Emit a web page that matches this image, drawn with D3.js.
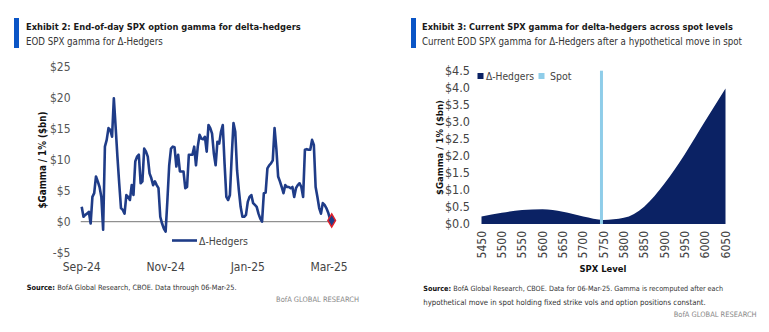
<!DOCTYPE html>
<html><head><meta charset="utf-8">
<script src="https://cdn.jsdelivr.net/npm/d3@7"></script>
<style>
body{margin:0;background:#fff;}
svg{display:block;font-family:"Liberation Sans Narrow","DejaVu Sans Condensed","Roboto","Liberation Sans",sans-serif;}
</style></head>
<body><svg id="c" width="769" height="332"></svg>
<script>
// ---------- Exhibit 2 data ----------
const hedgerGamma = [2.4,0.8,1.1,1.3,1.6,-0.3,4.0,4.6,7.3,6.5,
5.6,4.0,-1.3,12.1,13.2,15.1,14.8,13.7,19.9,15.3,
10.5,6.2,2.2,1.9,1.3,4.3,4.0,3.5,5.9,4.3,
9.7,10.5,10.8,6.2,6.5,11.8,11.3,10.5,7.8,7.0,
5.9,6.5,5.9,5.4,0.8,-0.3,-1.1,-1.6,3.5,9.1,
11.8,12.1,12.0,8.9,10.8,8.1,8.1,8.1,5.4,5.6,
10.8,10.8,10.8,12.1,9.1,12.1,14.0,13.4,13.3,13.7,
11.3,15.6,15.1,14.2,11.0,9.1,12.9,12.6,14.5,15.6,
9.4,4.0,3.5,4.3,10.5,15.9,14.5,8.3,5.1,2.4,
0.8,0.8,1.1,3.2,4.0,4.3,3.0,2.7,2.4,1.3,
0.5,0,4.6,4.7,8.6,9.1,9.4,9.9,15.1,11.8,
7.3,6.5,5.6,4.6,5.9,5.6,5.6,5.4,5.6,4.0,
5.4,5.9,6.2,5.6,4.0,11.6,11.7,11.6,11.6,13.2,
12.4,5.6,4.0,2.2,1.3,3.0,2.7,2.2,1.5,0.5,
0.2];
const dateTickLabels = ["Sep-24","Nov-24","Jan-25","Mar-25"];
const dateTickIndex = [0,47,93,138.5];
const leftYTicks = [-5,0,5,10,15,20,25];

// ---------- Exhibit 3 data ----------
const spxLevels = [5450,5500,5550,5600,5650,5700,5750,5800,5850,5900,5950,6000,6050];
const spotGamma = [0.22,0.33,0.41,0.43,0.36,0.22,0.12,0.18,0.51,1.19,2.05,3.02,3.98];
const spotLevel = 5745;
const rightYTicks = [0,0.5,1,1.5,2,2.5,3,3.5,4,4.5];

const NAVY_LINE = "#1f3c88";
const NAVY_AREA = "#0b2264";
const SPOT = "#8fcde9";
const BAR = "#0a55c6";

const svg = d3.select("#c");

// scale the font size so the text's natural width matches the target width
function fit(sel, target){
  const fs = parseFloat(sel.attr("font-size"));
  const w = sel.node().getComputedTextLength();
  if (w > 0) sel.attr("font-size", (fs*target/w).toFixed(2));
}

// ---------- headers ----------
svg.append("rect").attr("x",14).attr("y",18).attr("width",5).attr("height",30).attr("fill",BAR);
svg.append("text").attr("x",26).attr("y",30).attr("font-size",12.5).attr("font-weight","bold").attr("fill","#1a1a1a")
  .text("Exhibit 2: End-of-day SPX option gamma for delta-hedgers").call(fit,275);
svg.append("text").attr("x",26).attr("y",45).attr("font-size",12).attr("fill","#333")
  .text("EOD SPX gamma for Δ-Hedgers").call(fit,137);

svg.append("rect").attr("x",411).attr("y",18).attr("width",5).attr("height",30).attr("fill",BAR);
svg.append("text").attr("x",422).attr("y",30).attr("font-size",12.5).attr("font-weight","bold").attr("fill","#1a1a1a")
  .text("Exhibit 3: Current SPX gamma for delta-hedgers across spot levels").call(fit,311);
svg.append("text").attr("x",422).attr("y",45).attr("font-size",12).attr("fill","#333")
  .text("Current EOD SPX gamma for Δ-Hedgers after a hypothetical move in spot").call(fit,320);

// ---------- Left chart ----------
const xL = d3.scaleLinear().domain([0, hedgerGamma.length-1]).range([81.7, 331.7]);
const yL = d3.scaleLinear().domain([-5,25]).range([252.7, 66.7]);

const gL = svg.append("g");
gL.selectAll("text.yl").data(leftYTicks).join("text")
  .attr("x",70.5).attr("y",d=>yL(d)).attr("dy","0.35em").attr("text-anchor","end")
  .attr("font-size",12).attr("fill","#555")
  .text(d=> d<0 ? "-$"+Math.abs(d) : "$"+d);

gL.append("line").attr("x1",xL(0)-1).attr("x2",xL(hedgerGamma.length-1)+1)
  .attr("y1",yL(0)).attr("y2",yL(0)).attr("stroke","#777").attr("stroke-width",1);

gL.append("path").datum(hedgerGamma)
  .attr("fill","none").attr("stroke",NAVY_LINE).attr("stroke-width",2.6).attr("stroke-linejoin","round")
  .attr("d", d3.line().x((d,i)=>xL(i)).y(d=>yL(d)));

const last = hedgerGamma.length-1;
gL.append("path").attr("d", d3.symbol(d3.symbolDiamond, 50)())
  .attr("transform",`translate(${xL(last)},${yL(hedgerGamma[last])})`)
  .attr("fill",NAVY_LINE).attr("stroke","#e0202a").attr("stroke-width",1.5);

gL.selectAll("text.xl").data(dateTickLabels).join("text")
  .attr("x",(d,i)=>xL(dateTickIndex[i])).attr("y",271).attr("text-anchor","middle")
  .attr("font-size",12).attr("fill","#444").text(d=>d);

gL.append("text").attr("transform","translate(46,160) rotate(-90)").attr("text-anchor","middle")
  .attr("font-size",12).attr("font-weight","bold").attr("fill","#111")
  .text("$Gamma / 1% ($bn)").call(fit,97);

gL.append("line").attr("x1",172).attr("x2",197).attr("y1",240.5).attr("y2",240.5)
  .attr("stroke",NAVY_LINE).attr("stroke-width",2.6);
gL.append("text").attr("x",199).attr("y",244.5).attr("font-size",12).attr("fill","#444")
  .text("Δ-Hedgers").call(fit,49);

const s1 = svg.append("text").attr("x",26.7).attr("y",290).attr("font-size",9).attr("fill","#333");
s1.append("tspan").attr("font-weight","bold").attr("fill","#111").text("Source: ");
s1.append("tspan").text("BofA Global Research, CBOE. Data through 06-Mar-25.");
s1.call(fit,210);
svg.append("text").attr("x",359).attr("y",302).attr("text-anchor","end").attr("font-size",9).attr("fill","#888")
  .text("BofA GLOBAL RESEARCH").call(fit,83);

// ---------- Right chart ----------
const xR = d3.scaleLinear().domain([spxLevels[0], spxLevels[spxLevels.length-1]]).range([481.5, 725.5]);
const yR = d3.scaleLinear().domain([0,4.5]).range([224, 70.7]);

const gR = svg.append("g");
gR.selectAll("text.yr").data(rightYTicks).join("text")
  .attr("x",470).attr("y",d=>yR(d)).attr("dy","0.35em").attr("text-anchor","end")
  .attr("font-size",12.5).attr("fill","#444").text(d=>"$"+d.toFixed(1));

gR.append("path").datum(spotGamma)
  .attr("fill",NAVY_AREA)
  .attr("d", d3.area().x((d,i)=>xR(spxLevels[i])).y0(yR(0)).y1(d=>yR(d)).curve(d3.curveMonotoneX));

gR.append("line").attr("x1",xR(spotLevel)).attr("x2",xR(spotLevel)).attr("y1",yR(4.5)).attr("y2",yR(0))
  .attr("stroke",SPOT).attr("stroke-width",3);

gR.selectAll("text.xr").data(spxLevels).join("text")
  .attr("transform",d=>`translate(${xR(d)},231) rotate(-90)`).attr("dy","0.35em")
  .attr("text-anchor","end").attr("font-size",12).attr("fill","#444").text(d=>d);

gR.append("text").attr("x",603).attr("y",272).attr("text-anchor","middle")
  .attr("font-size",12.5).attr("font-weight","bold").attr("fill","#111").text("SPX Level").call(fit,47);

gR.append("text").attr("transform","translate(443,147.5) rotate(-90)").attr("text-anchor","middle")
  .attr("font-size",12).attr("font-weight","bold").attr("fill","#111")
  .text("$Gamma / 1% ($bn)").call(fit,95);

// legend
gR.append("rect").attr("x",477.5).attr("y",73).attr("width",6).attr("height",6).attr("fill",NAVY_AREA);
gR.append("text").attr("x",486).attr("y",80).attr("font-size",12).attr("fill","#444").text("Δ-Hedgers").call(fit,48);
gR.append("rect").attr("x",538.5).attr("y",73).attr("width",6).attr("height",6).attr("fill",SPOT);
gR.append("text").attr("x",550).attr("y",80).attr("font-size",12).attr("fill","#444").text("Spot").call(fit,21.5);

const s2 = svg.append("text").attr("x",423.3).attr("y",291).attr("font-size",9).attr("fill","#333");
s2.append("tspan").attr("font-weight","bold").attr("fill","#111").text("Source: ");
s2.append("tspan").text("BofA Global Research, CBOE. Data for 06-Mar-25. Gamma is recomputed after each");
s2.call(fit,300);
svg.append("text").attr("x",423.3).attr("y",304.5).attr("font-size",9).attr("fill","#333")
  .text("hypothetical move in spot holding fixed strike vols and option positions constant.").call(fit,283);
svg.append("text").attr("x",756.7).attr("y",317).attr("text-anchor","end").attr("font-size",9).attr("fill","#888")
  .text("BofA GLOBAL RESEARCH").call(fit,83);
</script></body></html>
